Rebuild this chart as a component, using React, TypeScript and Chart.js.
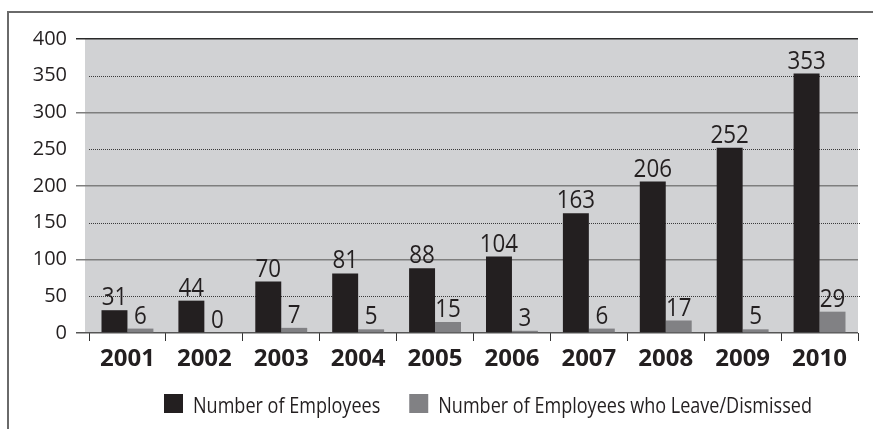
import React, { useEffect, useRef } from "react";
import { Chart, registerables } from "chart.js";

Chart.register(...registerables);

const years = ["2001", "2002", "2003", "2004", "2005", "2006", "2007", "2008", "2009", "2010"];
const employees = [31, 44, 70, 81, 88, 104, 163, 206, 252, 353];
const leavers = [6, 0, 7, 5, 15, 3, 6, 17, 5, 29];
const seriesNames = ["Number of Employees", "Number of Employees who Leave/Dismissed"];
const seriesColors = ["#231f20", "#818184"];
const yMin = 0;
const yMax = 400;
const yStep = 50;

const FONT = "'Open Sans', sans-serif";
const TEXT = "#231f20";

const bgPlugin = {
  id: "plotBg",
  beforeDraw(chart: any) {
    const { ctx, chartArea } = chart;
    ctx.save();
    ctx.fillStyle = "#d1d2d4";
    ctx.fillRect(chartArea.left - 4, chartArea.top, chartArea.right - chartArea.left + 4, chartArea.bottom - chartArea.top);
    ctx.restore();
  },
  beforeDatasetsDraw(chart: any) {
    const { ctx, chartArea } = chart;
    const y = chart.scales.y;
    ctx.save();
    ctx.strokeStyle = "#3a3a3a";
    ctx.lineWidth = 1;
    ctx.setLineDash([1, 1]);
    y.ticks.forEach((t: any) => {
      if (t.value % 100 !== 0) {
        const py = Math.round(y.getPixelForValue(t.value)) + 0.5;
        ctx.beginPath();
        ctx.moveTo(chartArea.left, py);
        ctx.lineTo(chartArea.right + 2, py);
        ctx.stroke();
      }
    });
    ctx.restore();
  },
  afterDatasetsDraw(chart: any) {
    const { ctx } = chart;
    ctx.save();
    ctx.fillStyle = TEXT;
    ctx.font = `26px ${FONT}`;
    ctx.textAlign = "center";
    ctx.textBaseline = "alphabetic";
    chart.data.datasets.forEach((ds: any, di: number) => {
      const meta = chart.getDatasetMeta(di);
      meta.data.forEach((el: any, i: number) => {
        ctx.save();
        ctx.translate(el.x, el.y - 5);
        ctx.scale(0.86, 1);
        ctx.fillText(String(ds.data[i]), 0, 0);
        ctx.restore();
      });
    });
    ctx.restore();
  },
  afterDraw(chart: any) {
    const { ctx } = chart;
    ctx.save();
    ctx.font = `22px ${FONT}`;
    ctx.textBaseline = "alphabetic";
    const sx = 0.82;
    let x = 164;
    const top = 394;
    chart.data.datasets.forEach((ds: any, di: number) => {
      ctx.fillStyle = ds.backgroundColor;
      ctx.fillRect(x, top, 19, 19);
      const tx = x + 29;
      const w = ctx.measureText(ds.label).width * sx;
      ctx.fillStyle = TEXT;
      ctx.save();
      ctx.translate(tx, top + 18.5);
      ctx.scale(sx, 1);
      ctx.fillText(ds.label, 0, 0);
      ctx.restore();
      x = tx + w + 29;
    });
    ctx.restore();
  },
};

function gridColor(v: number) {
  if (v === yMax) return "#2a2a2a";
  if (v === 0) return "#555555";
  if (v % 100 === 0) return "#7e7e7e";
  return "rgba(0,0,0,0)";
}

export default function App() {
  const ref = useRef<HTMLCanvasElement | null>(null);
  useEffect(() => {
    if (!ref.current) return;
    const chart = new Chart(ref.current, {
      type: "bar",
      data: {
        labels: years,
        datasets: [
          { label: seriesNames[0], data: employees, backgroundColor: seriesColors[0], borderWidth: 0, categoryPercentage: 0.675, barPercentage: 1 },
          { label: seriesNames[1], data: leavers, backgroundColor: seriesColors[1], borderWidth: 0, categoryPercentage: 0.675, barPercentage: 1 },
        ],
      },
      options: {
        responsive: false,
        animation: false,
        layout: { padding: { top: 39, right: 15, left: 0, bottom: 0 } },
        plugins: { legend: { display: false }, tooltip: { enabled: false } },
        scales: {
          x: {
            afterFit: (s: any) => { s.height = 96; },
            grid: { display: true, drawOnChartArea: false, drawTicks: true, tickLength: 8, tickColor: "#333", offset: true, tickWidth: 1 },
            border: { display: false },
            ticks: { font: { family: FONT, size: 24, weight: "bold" }, color: TEXT, padding: 4, maxRotation: 0 },
          },
          y: {
            min: yMin,
            max: yMax,
            afterFit: (s: any) => { s.width = 89; },
            border: { display: false },
            grid: {
              color: (c: any) => gridColor(c.tick ? c.tick.value : -1),
              tickColor: (c: any) => gridColor(c.tick ? c.tick.value : -1),
              lineWidth: (c: any) => (c.tick && c.tick.value % 100 === 0 ? 1.5 : 1),
              tickWidth: (c: any) => (c.tick && c.tick.value % 100 === 0 ? 1.5 : 1),
              tickLength: 13,
              drawTicks: true,
            },
            ticks: { stepSize: yStep, font: { family: FONT, size: 20 }, color: TEXT, padding: 9 },
          },
        },
      },
      plugins: [bgPlugin],
    });
    return () => chart.destroy();
  }, []);
  return (
    <div style={{ position: "fixed", left: 0, top: 0, width: 873, height: 429, background: "#fff" }}>
      <div style={{ position: "absolute", left: 7, top: 11, width: 900, height: 500, borderTop: "2px solid #6a6a6a", borderLeft: "2px solid #6a6a6a", boxSizing: "border-box" }} />
      <canvas ref={ref} width={873} height={429} style={{ position: "absolute", left: 0, top: 0 }} />
    </div>
  );
}
